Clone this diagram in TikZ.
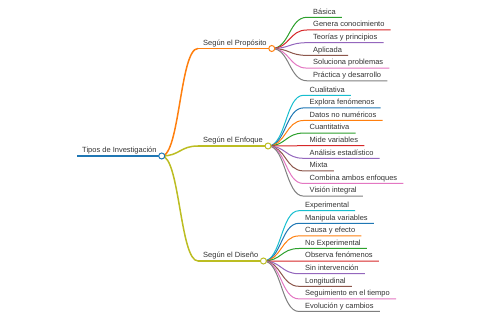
\documentclass[tikz,border=0pt]{standalone}
\usepackage{fontspec}
\setmainfont{Liberation Sans}
\usetikzlibrary{calc}
\definecolor{blue}{HTML}{1F77B4}
\definecolor{orange}{HTML}{FF7F0E}
\definecolor{green}{HTML}{2CA02C}
\definecolor{red}{HTML}{D62728}
\definecolor{purple}{HTML}{9467BD}
\definecolor{brown}{HTML}{8C564B}
\definecolor{pink}{HTML}{E377C2}
\definecolor{gray}{HTML}{7F7F7F}
\definecolor{olive}{HTML}{BCBD22}
\definecolor{cyan}{HTML}{17BECF}
\definecolor{ink}{HTML}{333333}
\pgfdeclarelayer{bg}
\pgfsetlayers{bg,main}

\begin{document}
\begin{tikzpicture}[x=1pt,y=-1pt]

\tikzset{line/.style={draw,line width=1pt}}
\tikzset{thickline/.style={draw,line width=1.5pt}}
\tikzset{rootline/.style={draw,line width=2pt}}
\tikzset{link/.style={to path={.. controls +(18,0) and +(-18,0) .. (\tikztotarget)}}}
\tikzset{textnode/.style={anchor=south west,inner ysep=0pt,text height=6pt,text depth=3pt,text=ink,font=\fontsize{7.5}{9}\selectfont}}
\tikzset{topic/.style={textnode,inner xsep=5pt}}
\tikzset{leaf/.style={textnode,inner xsep=6pt}}
\tikzset{dot/.style={circle,draw=#1,fill=white,line width=1pt,inner sep=0pt,minimum size=6pt}}

\useasboundingbox (0,0) rectangle (480,320);

% root and topics
\node[topic] (tipos) at (77,156) {Tipos de Investigación};
\node[topic] (proposito) at (198,48.5) {Según el Propósito};
\node[topic] (enfoque) at (198,146) {Según el Enfoque};
\node[topic] (diseno) at (198,261) {Según el Diseño};

% Proposito
\node[leaf] (basica) at (307,17.3) {Básica};
\node[leaf] (genera) at (307,30) {Genera conocimiento};
\node[leaf] (teorias) at (307,42.7) {Teorías y principios};
\node[leaf] (aplicada) at (307,55.4) {Aplicada};
\node[leaf] (soluciona) at (307,68.1) {Soluciona problemas};
\node[leaf] (practica) at (307,80.8) {Práctica y desarrollo};

% Enfoque
\node[leaf] (cualitativa) at (303.5,95.3) {Cualitativa};
\node[leaf] (explora) at (303.5,107.9) {Explora fenómenos};
\node[leaf] (datos) at (303.5,120.5) {Datos no numéricos};
\node[leaf] (cuantitativa) at (303.5,133.1) {Cuantitativa};
\node[leaf] (mide) at (303.5,145.7) {Mide variables};
\node[leaf] (analisis) at (303.5,158.3) {Análisis estadístico};
\node[leaf] (mixta) at (303.5,170.9) {Mixta};
\node[leaf] (combina) at (303.5,183.5) {Combina ambos enfoques};
\node[leaf] (vision) at (303.5,196.1) {Visión integral};

% Diseno
\node[leaf] (experimental) at (299,210.7) {Experimental};
\node[leaf] (manipula) at (299,223.3) {Manipula variables};
\node[leaf] (causa) at (299,235.9) {Causa y efecto};
\node[leaf] (noexp) at (299,248.5) {No Experimental};
\node[leaf] (observa) at (299,261.1) {Observa fenómenos};
\node[leaf] (sininter) at (299,273.7) {Sin intervención};
\node[leaf] (longitudinal) at (299,286.3) {Longitudinal};
\node[leaf] (seguimiento) at (299,298.9) {Seguimiento en el tiempo};
\node[leaf] (evolucion) at (299,311.5) {Evolución y cambios};

\begin{pgfonlayer}{bg}

\path[rootline,blue] (tipos.south west) -- (tipos.south east);
\path[thickline,orange] (proposito.south west) -- (proposito.south east);
\path[thickline,olive] (enfoque.south west) -- (enfoque.south east);
\path[thickline,olive] (diseno.south west) -- (diseno.south east);

\path[thickline,orange] (tipos.south east) to[link] (proposito.south west);
\path[thickline,olive] (tipos.south east) to[link] (enfoque.south west);
\path[thickline,olive] (tipos.south east) to[link] (diseno.south west);

\path[line,green] (proposito.south east) to[link] (basica.south west) -- (basica.south east);
\path[line,red] (proposito.south east) to[link] (genera.south west) -- (genera.south east);
\path[line,purple] (proposito.south east) to[link] (teorias.south west) -- (teorias.south east);
\path[line,brown] (proposito.south east) to[link] (aplicada.south west) -- (aplicada.south east);
\path[line,pink] (proposito.south east) to[link] (soluciona.south west) -- (soluciona.south east);
\path[line,gray] (proposito.south east) to[link] (practica.south west) -- (practica.south east);

\path[line,cyan] (enfoque.south east) to[link] (cualitativa.south west) -- (cualitativa.south east);
\path[line,blue] (enfoque.south east) to[link] (explora.south west) -- (explora.south east);
\path[line,orange] (enfoque.south east) to[link] (datos.south west) -- (datos.south east);
\path[line,green] (enfoque.south east) to[link] (cuantitativa.south west) -- (cuantitativa.south east);
\path[line,red] (enfoque.south east) to[link] (mide.south west) -- (mide.south east);
\path[line,purple] (enfoque.south east) to[link] (analisis.south west) -- (analisis.south east);
\path[line,brown] (enfoque.south east) to[link] (mixta.south west) -- (mixta.south east);
\path[line,pink] (enfoque.south east) to[link] (combina.south west) -- (combina.south east);
\path[line,gray] (enfoque.south east) to[link] (vision.south west) -- (vision.south east);

\path[line,cyan] (diseno.south east) to[link] (experimental.south west) -- (experimental.south east);
\path[line,blue] (diseno.south east) to[link] (manipula.south west) -- (manipula.south east);
\path[line,orange] (diseno.south east) to[link] (causa.south west) -- (causa.south east);
\path[line,green] (diseno.south east) to[link] (noexp.south west) -- (noexp.south east);
\path[line,red] (diseno.south east) to[link] (observa.south west) -- (observa.south east);
\path[line,purple] (diseno.south east) to[link] (sininter.south west) -- (sininter.south east);
\path[line,brown] (diseno.south east) to[link] (longitudinal.south west) -- (longitudinal.south east);
\path[line,pink] (diseno.south east) to[link] (seguimiento.south west) -- (seguimiento.south east);
\path[line,gray] (diseno.south east) to[link] (evolucion.south west) -- (evolucion.south east);

\end{pgfonlayer}

% circles at the ends
\node[dot=blue] (tiposdot) at (tipos.south east) {};
\node[dot=orange] (propositodot) at (proposito.south east) {};
\node[dot=olive] (enfoquedot) at (enfoque.south east) {};
\node[dot=olive] (disenodot) at (diseno.south east) {};

\end{tikzpicture}
\end{document}
